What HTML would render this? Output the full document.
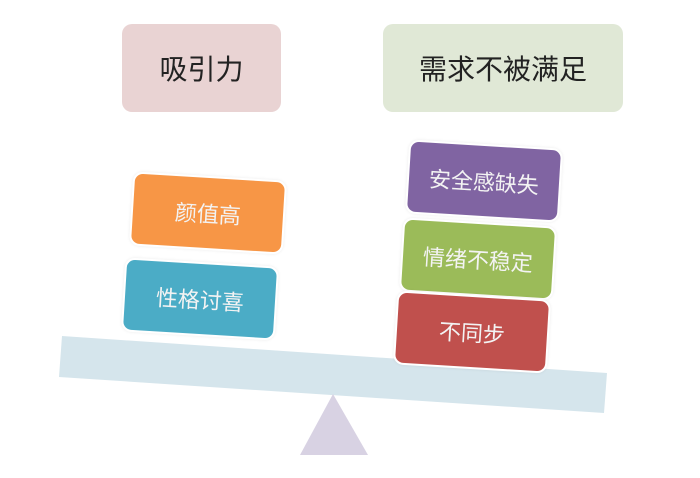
<!DOCTYPE html>
<html><head><meta charset="utf-8"><style>
body{margin:0;width:700px;height:478px;background:#fff;overflow:hidden;position:relative;font-family:"Liberation Sans","Noto Sans CJK SC",sans-serif}
.b{position:absolute;display:flex;align-items:center;justify-content:center;border-radius:10px}
.t{font-size:28px;color:#222}
.s{width:150px;height:70px;color:#f3f3f3;font-size:22px;transform:rotate(3.5deg);border:2px solid #fff;box-shadow:0 0 3px rgba(0,0,0,.08)}
</style></head><body>
<div class="b t" style="left:122px;top:24px;width:159px;height:88px;background:#e9d3d3">吸引力</div>
<div class="b t" style="left:383px;top:24px;width:240px;height:88px;background:#e0e8d6">需求不被满足</div>
<svg width="700" height="478" style="position:absolute;left:0;top:0">
<polygon points="62,336 607,373 604,413 59,377" fill="#d5e5ec"/>
<polygon points="333,394 300,455 368,455" fill="#d8d2e3"/>
</svg>
<div class="b s" style="left:131px;top:176px;background:#f79646">颜值高</div>
<div class="b s" style="left:123px;top:262px;background:#4bacc6">性格讨喜</div>
<div class="b s" style="left:407px;top:144px;background:#8064a2">安全感缺失</div>
<div class="b s" style="left:401px;top:222px;background:#9bbb59">情绪不稳定</div>
<div class="b s" style="left:395px;top:295px;background:#c0504d">不同步</div>
</body></html>
